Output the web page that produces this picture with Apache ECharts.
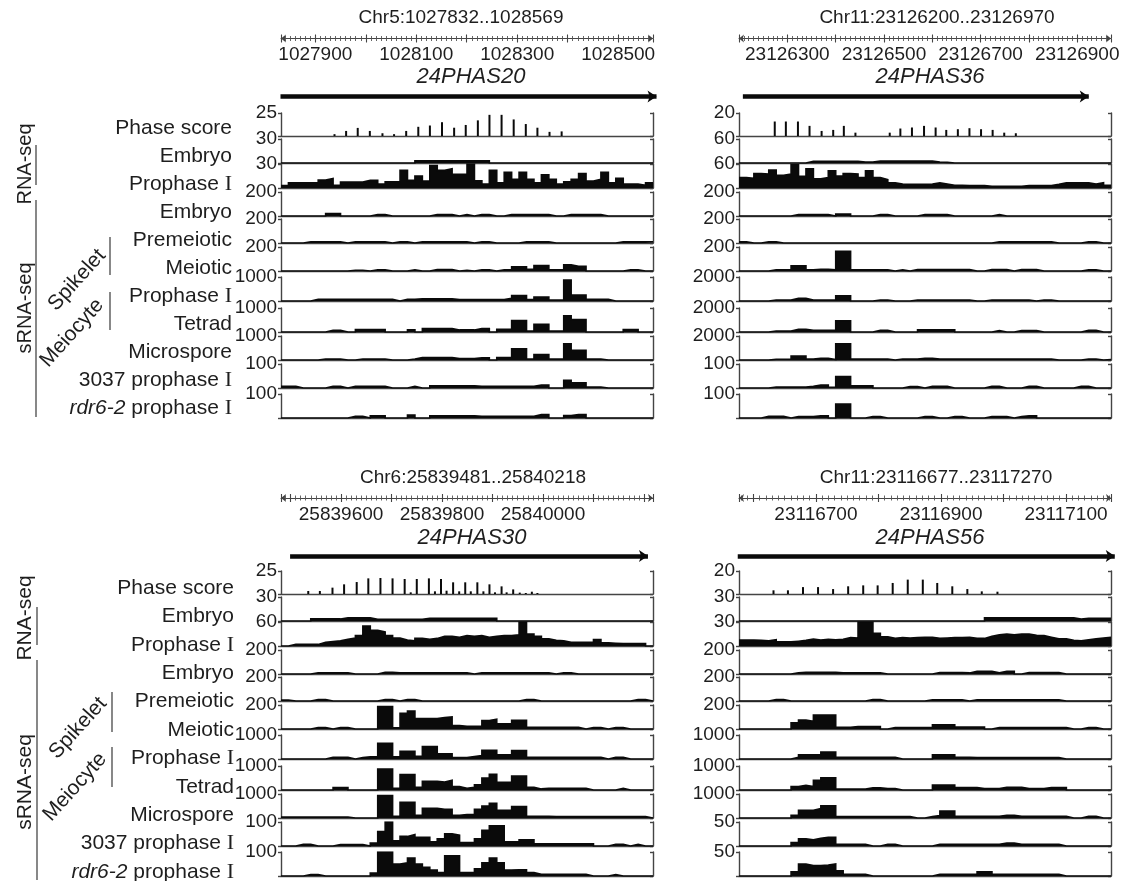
<!DOCTYPE html>
<html><head><meta charset="utf-8">
<script src="https://cdn.jsdelivr.net/npm/echarts@6/dist/echarts.min.js"></script>
<style>html,body{margin:0;padding:0;background:#fff}#c{width:1126px;height:881px}</style>
</head><body><div id="c"></div>
<script>
// ---------------- DATA ----------------
const chromTL = 'Chr5', regionTL = [1027832, 1028569], labelsTL = [1027900, 1028100, 1028300, 1028500];
const chromTR = 'Chr11', regionTR = [23126200, 23126970], labelsTR = [23126300, 23126500, 23126700, 23126900];
const chromBL = 'Chr6', regionBL = [25839481, 25840218], labelsBL = [25839600, 25839800, 25840000];
const chromBR = 'Chr11', regionBR = [23116677, 23117270], labelsBR = [23116700, 23116900, 23117100];
const rulerBR = [23116577, 23117172]; // extent of the drawn coordinate ruler in this panel

const geneTL = [1027831, 1028576], geneTR = [23126208, 23126924], geneBL = [25839499, 25840208], geneBR = [23116675, 23117276];
const nameTL = '24PHAS20', nameTR = '24PHAS36', nameBL = '24PHAS30', nameBR = '24PHAS56';

const yMaxTL = [25, 30, 30, 200, 200, 200, 1000, 1000, 1000, 100, 100];
const yMaxTR = [20, 60, 60, 200, 200, 200, 2000, 2000, 2000, 100, 100];
const yMaxBL = [25, 30, 60, 200, 200, 200, 1000, 1000, 1000, 100, 100];
const yMaxBR = [20, 30, 30, 200, 200, 200, 1000, 1000, 1000, 50, 50];

const rowLabels = ['Phase score', 'Embryo', 'Prophase {s|I}', 'Embryo', 'Premeiotic', 'Meiotic', 'Prophase {s|I}', 'Tetrad', 'Microspore', '3037 prophase {s|I}', '{i|rdr6-2} prophase {s|I}'];

// phase score spikes
const tlPhasePos = [1027938,1027961,1027984,1028008,1028033,1028056,1028080,1028104,1028127,1028151,1028175,1028198,1028222,1028245,1028269,1028293,1028317,1028340,1028364,1028388];
const tlPhaseVal = [2,5.5,8.8,5.5,3,2,5.5,10,11.4,15,9,12,17,23,23,18,13,9,4.5,5];
const trPhasePos = [23126274,23126297,23126322,23126346,23126371,23126395,23126417,23126441,23126512,23126534,23126558,23126583,23126607,23126629,23126653,23126677,23126701,23126725,23126749,23126773];
const trPhaseVal = [12.6,12.6,12.6,8.8,4.4,5.3,8.8,2.9,2.9,6.5,7.4,8.8,7.4,5.3,5.9,6.8,5.9,5.3,2.9,2.4];
const blPhasePos = [25839535,25839558,25839583,25839606,25839631,25839654,25839678,25839702,25839726,25839738,25839750,25839774,25839786,25839798,25839809,25839822,25839834,25839846,25839857,25839870,25839882,25839894,25839905,25839918,25839928,25839941,25839954,25839966,25839978,25839989];
const blPhaseVal = [3.3,3.3,6.9,10.5,13,17,17.4,17,16.3,1.8,16.3,17,2.9,16.3,3.6,12.7,2.9,12.7,2.9,12.7,2.9,10.5,1.8,8.3,1.8,5,1.5,1.1,2.5,1.1];
const brPhasePos = [23116732,23116755,23116779,23116803,23116827,23116851,23116875,23116898,23116922,23116946,23116970,23116993,23117017,23117041,23117064,23117089];
const brPhaseVal = [3.2,3.2,6,6,4.3,6.7,7.5,7.5,9.6,12.5,12.5,9.6,6.7,4.3,2.3,2];

// coverage tracks: 50 equal bins across each region
const tlRnaEmb = [0,0,0,0,0,0,0,0,0,0, 0,0,0,0,0,0,0,0,2.6,2.6, 2.6,2.6,2.6,2.6,2.6,2.6,2.6,2.6,0,0, 0,0,0,0,0,0,0,0,0,0, 0,0,0,0,0,0,0,0,0,0];
const tlRnaPro = [3,6.5,6.5,6.5,6.5,10,12,3.5,7.4,7.4, 7.4,9.5,9.5,5,7.8,8,22,9.5,15,8.7, 28,22,24,17,17,30,9,5,22,6.5, 19.5,11,19.5,11,6.5,16.5,11,5,7.8,11, 18,8.7,11,19.5,6.5,12,5,5,3.5,6.5];
const tlEmb = [0,0,0,0,0,0,20,20,0,0, 0,0,12,12,0,0,0,0,0,0, 12,12,12,0,12,0,12,12,0,0, 12,12,12,12,12,12,0,0,12,12, 12,12,12,0,0,0,0,0,0,0];
const tlPre = [0,0,0,9,9,9,9,9,0,9, 9,9,9,9,0,9,9,0,9,9, 9,9,9,9,9,0,9,9,0,0, 0,0,9,9,9,9,0,0,0,0, 0,0,0,0,0,9,9,9,9,9];
const tlMei = [0,0,0,0,0,0,0,0,0,6, 6,0,9,9,0,0,0,9,0,0, 12,12,12,0,5,0,9,9,0,9, 9,35,35,14,46,46,9,9,52,40, 40,0,0,0,0,0,9,9,0,0];
const tlPro = [0,0,0,0,72,72,72,72,72,72, 72,72,72,72,72,0,72,72,87,87, 87,87,87,58,58,58,58,58,58,58, 116,230,230,58,160,160,43,43,870,246, 246,72,72,72,0,0,0,0,0,0];
const tlTet = [0,0,0,0,0,0,72,72,0,0, 100,100,100,100,0,0,0,87,0,145, 145,145,145,87,87,87,145,145,0,116, 116,478,478,43,320,320,43,43,680,520, 520,0,0,0,0,0,100,100,0,0];
const tlMic = [0,0,0,0,0,43,43,43,0,0, 43,43,43,43,0,0,0,43,100,100, 100,100,100,58,58,58,87,87,0,100, 100,464,464,43,232,232,43,43,680,406, 406,43,43,0,0,0,0,0,0,0];
const tl3037 = [7,7,0,0,0,0,7,7,0,7, 7,7,7,7,0,0,0,7,0,0, 9,9,9,9,9,9,7,7,7,7, 7,7,7,7,12,12,0,0,32,22, 22,4,4,0,0,0,0,0,0,0];
const tlRdr = [0,0,0,0,0,0,0,0,0,7, 7,0,9,9,0,0,0,12,0,0, 9,9,9,9,9,9,7,7,7,7, 7,7,7,7,14,14,0,0,10,14, 14,0,0,0,0,0,0,0,0,0];

const trRnaEmb = [0,0,0,0,0,0,0,0,0,4.3, 4.3,4.3,4.3,4.3,4.3,4.3,2.6,2.6,5,5, 5,5,5,5,5,5,2.6,1.5,0,0, 0,0,0,0,0,0,0,0,0,0, 0,0,0,0,0,0,0,0,0,0];
const trRnaPro = [26,24,36,35,45,32,35,58,29,48, 23,26,43,30,36,35,26,43,26,21, 13,10,9,9,9,10,13,10,7,7, 6,6,6,4.5,4.5,4.5,4.5,4.5,6,6, 6,6,9,13,13,13,13,10,13,7];
const trEmb = [0,0,0,0,0,0,0,12,12,12, 12,12,0,17,17,0,0,0,12,12, 0,0,0,0,12,12,12,12,0,0, 0,0,0,0,12,0,0,0,0,0, 0,0,0,0,0,0,0,0,0,0];
const trPre = [10,0,0,10,10,0,0,0,0,0, 0,0,0,0,0,0,0,0,0,0, 0,0,0,0,0,0,0,0,0,0, 0,0,0,0,10,10,10,10,10,10, 10,10,0,0,0,0,10,10,0,0];
const trMei = [0,0,0,0,9,9,9,43,43,9, 14,14,9,165,165,9,9,9,9,9, 0,9,0,12,12,12,12,12,12,12, 12,0,0,12,12,12,0,12,12,12, 0,0,0,0,0,0,9,9,0,0];
const trPro = [0,0,0,0,87,87,87,232,232,87, 87,87,87,435,435,0,0,0,87,87, 0,0,0,87,87,87,87,87,87,87, 87,0,0,87,87,87,87,87,87,0, 87,87,0,0,0,0,0,0,0,0];
const trTet = [0,0,0,0,87,87,87,232,232,145, 145,145,145,930,930,0,0,0,145,145, 0,0,0,0,174,174,174,174,174,0, 0,0,0,0,116,0,0,116,116,116, 0,0,0,0,0,0,145,145,0,0];
const trMic = [0,0,0,0,58,58,58,320,320,87, 145,145,40,1360,1360,87,87,87,87,87, 0,87,87,87,145,145,87,87,87,87, 87,87,87,87,87,87,87,87,87,87, 87,87,0,0,0,0,87,87,0,30];
const tr3037 = [0,0,0,0,4,4,4,4,4,7, 12,12,3,48,48,9,9,9,0,0, 0,0,6,6,0,7,7,7,0,0, 0,0,0,7,7,0,0,0,7,7, 0,0,0,0,0,7,7,0,0,0];
const trRdr = [0,0,0,7,7,7,0,6,6,6, 9,9,0,58,58,0,0,6,6,0, 0,0,0,0,6,6,0,0,6,6, 0,0,0,6,6,6,0,6,9,9, 0,0,0,0,0,0,0,0,0,0];

const blRnaEmb = [0,0,0,0,2.6,2.6,2.6,2.6,3.9,3.9, 3.9,3.9,2.2,2.2,2.2,2.2,2.2,2.2,2.2,3.5, 3.5,3.5,3.5,3.5,3.5,3.5,3.5,3.5,3.5,0, 0,0,0,0,0,0,0,0,0,0, 0,0,0,0,0,0,0,0,0,0];
const blRnaPro = [0,4,4,4,4,9,11,13,17,20, 26,50,39,35,26,20,15,13,19,17, 19,24,24,22,26,24,26,22,24,26, 26,28,60,30,24,18,14,13,9,9, 9,10,16,8,7,6,6,6,6,0];
const blEmb = [0,0,0,0,10,10,10,10,10,0, 0,0,0,14,14,10,10,10,10,10, 10,10,10,10,10,0,10,10,10,10, 10,10,10,10,10,10,0,10,10,0, 0,0,0,0,0,0,0,0,0,0];
const blPre = [8,0,0,0,12,12,0,0,0,0, 0,0,0,12,12,0,12,12,0,0, 0,0,0,0,0,0,0,0,0,0, 0,0,12,12,0,0,0,0,0,0, 0,0,0,0,0,0,0,12,12,0];
const blMei = [0,0,0,0,12,12,0,12,12,0, 0,0,0,188,188,10,130,150,87,87, 87,95,101,29,23,23,23,70,81,43, 43,72,72,15,14,14,14,14,14,14, 0,12,12,0,12,12,0,0,0,0];
const blPro = [0,0,0,0,0,0,72,72,72,0, 58,87,87,650,650,87,320,320,116,520, 520,217,217,58,58,100,145,362,362,174, 174,348,348,72,72,72,72,72,72,72, 72,72,72,0,72,72,0,0,0,0];
const blTet = [0,0,0,0,0,0,0,100,100,0, 0,0,0,870,870,72,640,640,116,362, 362,330,406,145,72,110,217,500,650,320, 320,580,580,116,45,72,72,72,72,72, 72,0,0,0,0,72,0,0,0,0];
const blMic = [43,43,43,43,43,43,43,43,43,0, 0,0,0,940,940,72,650,650,116,406, 406,362,362,116,145,145,362,500,610,320, 320,478,478,72,72,72,58,58,58,58, 58,58,58,58,58,58,58,58,58,0];
const bl3037 = [0,0,7,7,0,0,0,6,6,6, 6,0,12,60,100,22,40,48,36,36, 17,30,51,45,14,14,30,65,84,84, 17,17,26,26,9,9,9,9,9,9, 9,9,0,0,7,7,0,7,0,0];
const blRdr = [0,0,0,6,6,0,0,0,0,0, 0,0,12,100,100,50,55,75,50,36, 25,14,84,84,14,14,30,55,75,55, 25,26,26,14,7,7,7,7,7,7, 7,0,0,0,6,0,0,0,0,0];

const brRnaEmb = [0,0,0,0,0,0,0,0,0,0, 0,0,0,0,0,0,0,0,0,0, 0,0,0,0,0,0,0,0,0,0, 0,0,0,3.9,3.9,3.9,3.9,3.9,3.9,3.9, 3.9,3.9,3.9,3.9,3.9,2.5,3.5,3.5,3.5,3.5];
const brRnaPro = [7.4,7.4,7,6.5,7.8,5.2,5.2,6,7,8.7, 7.5,8.5,7.8,8.5,10.5,10,30,30,16,11.5, 9.6,10.5,10,10.5,11,11,9.6,10,10.5,10.5, 11,9.5,9.5,12,14,15,14,15,15,13.5, 13,11,9,9,7,6.5,7.8,9,10,11];
const brEmb = [0,0,0,0,0,0,0,9,14,14, 14,14,14,9,9,9,9,9,9,0, 0,0,0,0,0,0,12,12,12,12, 9,23,23,23,10,23,23,0,12,12, 12,12,12,0,0,0,0,0,0,0];
const brPre = [0,0,0,0,12,12,0,0,0,0, 0,0,0,0,0,0,0,12,12,0, 0,0,0,0,0,9,9,9,9,9, 0,9,9,9,9,9,9,9,9,9, 9,9,9,0,0,0,0,0,0,0];
const brMei = [0,0,0,0,0,0,0,52,75,64, 116,116,116,14,14,20,20,20,20,0, 12,12,12,12,12,12,35,35,35,17, 17,17,17,0,12,12,12,12,12,12, 12,12,12,12,0,0,12,12,0,0];
const brPro = [0,0,0,0,0,0,0,72,174,174, 174,290,290,72,72,72,72,72,72,72, 72,0,0,0,0,0,174,174,174,72, 72,58,58,58,58,58,58,58,58,58, 58,58,58,0,0,0,0,0,0,0];
const brTet = [0,0,0,0,0,0,0,145,200,145, 400,507,507,43,43,43,43,87,87,58, 58,0,0,0,0,0,203,203,203,100, 100,100,58,58,58,116,116,116,58,58, 58,100,100,100,0,0,0,0,0,0];
const brMic = [0,0,0,0,0,0,0,116,320,320, 400,507,507,58,58,58,58,58,58,58, 58,58,58,0,0,58,100,290,290,72, 72,72,72,72,72,116,116,72,72,72, 72,72,72,72,0,0,72,72,0,0];
const br3037 = [0,0,0,0,0,0,0,7,15,13, 16,18,18,3.6,3.6,3.6,3.6,0,0,3.6, 3.6,0,0,0,0,0,3.6,3.6,3.6,3.6, 3.6,3.6,3.6,3.6,3.6,6,6,3.6,3.6,3.6, 3.6,3.6,3.6,0,0,0,0,0,0,0];
const brRdr = [0,0,0,0,0,0,0,9,25,22, 22,23,25,11,3.6,3.6,3.6,0,0,0, 0,0,0,0,0,0,3.6,3.6,3.6,3.6, 3.6,3.6,9,9,3.6,3.6,3.6,3.6,3.6,3.6, 3.6,3.6,3.6,0,0,0,0,0,0,0];

// ---------------- LAYOUT ----------------
const FONT = "'Liberation Sans', Arial, sans-serif";
const TXT = '#1e1e1e', AX = '#444', FILL = '#0a0a0a';
const W = 372;
const trackBaseTop = [136, 163, 188, 216, 243, 271, 301, 332, 360, 388, 418];

const panels = [
  {left: 281, off: 0, chrom: chromTL, region: regionTL, ruler: regionTL, labels: labelsTL, gene: geneTL, name: nameTL, yMax: yMaxTL,
   pPos: tlPhasePos, pVal: tlPhaseVal, tracks: [tlRnaEmb, tlRnaPro, tlEmb, tlPre, tlMei, tlPro, tlTet, tlMic, tl3037, tlRdr],
   hdr: {title: 18, ruler: 38.5, name: 77, gene: 96.5}, titleX: 461, nameX: 471},
  {left: 739, off: 0, chrom: chromTR, region: regionTR, ruler: regionTR, labels: labelsTR, gene: geneTR, name: nameTR, yMax: yMaxTR,
   pPos: trPhasePos, pVal: trPhaseVal, tracks: [trRnaEmb, trRnaPro, trEmb, trPre, trMei, trPro, trTet, trMic, tr3037, trRdr],
   hdr: {title: 18, ruler: 38.5, name: 77, gene: 96.5}, titleX: 937, nameX: 930},
  {left: 281, off: 458, chrom: chromBL, region: regionBL, ruler: regionBL, labels: labelsBL, gene: geneBL, name: nameBL, yMax: yMaxBL,
   pPos: blPhasePos, pVal: blPhaseVal, tracks: [blRnaEmb, blRnaPro, blEmb, blPre, blMei, blPro, blTet, blMic, bl3037, blRdr],
   hdr: {title: 478, ruler: 498, name: 538, gene: 556}, titleX: 473, nameX: 472},
  {left: 739, off: 458, chrom: chromBR, region: regionBR, ruler: rulerBR, labels: labelsBR, gene: geneBR, name: nameBR, yMax: yMaxBR,
   pPos: brPhasePos, pVal: brPhaseVal, tracks: [brRnaEmb, brRnaPro, brEmb, brPre, brMei, brPro, brTet, brMic, br3037, brRdr],
   hdr: {title: 478, ruler: 498, name: 538, gene: 556}, titleX: 936, nameX: 930}
];

function stepData(vals, region) {
  const n = vals.length, w = (region[1] - region[0]) / n, d = [];
  for (let k = 0; k < n; k++) d.push([region[0] + k * w, vals[k]]);
  d.push([region[1], vals[n - 1]]);
  return d;
}

const grid = [], xAxis = [], yAxis = [], series = [], elements = [];
const axLine = {color: AX, width: 1.4};

panels.forEach(p => {
  // ruler
  let gi = grid.push({left: p.left, width: W, top: p.hdr.ruler - 10, height: 10}) - 1;
  const rb = {type: 'value', gridIndex: gi, min: p.ruler[0], max: p.ruler[1], position: 'bottom',
    minInterval: 100, maxInterval: 100, splitNumber: 7, splitLine: {show: false}};
  xAxis.push(Object.assign({}, rb, {
    axisLine: {show: true, onZero: false, symbol: ['arrow', 'arrow'], symbolSize: [6, 5], lineStyle: {color: AX, width: 1.1}},
    axisTick: {show: true, inside: false, length: 4, lineStyle: {color: AX, width: 1.1}},
    minorTick: {show: true, splitNumber: 10, length: 2.5, lineStyle: {color: '#555', width: 0.9}},
    axisLabel: {show: true, margin: 7, fontSize: 19, color: TXT, fontFamily: FONT,
      formatter: v => p.labels.indexOf(v) >= 0 ? String(v) : ''}
  }));
  xAxis.push(Object.assign({}, rb, {
    axisLine: {show: false, onZero: false},
    axisTick: {show: true, inside: true, length: 4, lineStyle: {color: AX, width: 1.1}},
    minorTick: {show: true, splitNumber: 10, length: 2.5, lineStyle: {color: '#555', width: 0.9}},
    axisLabel: {show: false}
  }));
  yAxis.push({type: 'value', gridIndex: gi, min: 0, max: 1, show: false});

  // gene arrow
  gi = grid.push({left: p.left, width: W, top: p.hdr.gene - 6, height: 12}) - 1;
  let xi = xAxis.push({type: 'value', gridIndex: gi, min: p.region[0], max: p.region[1], show: false}) - 1;
  let yi = yAxis.push({type: 'value', gridIndex: gi, min: -1, max: 1, show: false}) - 1;
  series.push({type: 'lines', coordinateSystem: 'cartesian2d', xAxisIndex: xi, yAxisIndex: yi, clip: false, silent: true,
    symbol: ['none', 'arrow'], symbolSize: [8, 9], lineStyle: {color: FILL, width: 4.5, opacity: 1, curveness: 0},
    data: [{coords: [[p.gene[0], 0], [p.gene[1], 0]]}]});

  // tracks
  for (let i = 0; i < 11; i++) {
    const base = trackBaseTop[i] + p.off, h = i === 0 ? 23 : 24, M = p.yMax[i];
    gi = grid.push({left: p.left, width: W, top: base - h, height: h}) - 1;
    xi = xAxis.push({type: 'value', gridIndex: gi, min: p.region[0], max: p.region[1],
      axisLine: {show: true, onZero: false, lineStyle: axLine}, axisTick: {show: false}, axisLabel: {show: false}, splitLine: {show: false}}) - 1;
    yi = yAxis.push({type: 'value', gridIndex: gi, min: 0, max: M, interval: M, position: 'left',
      axisLine: {show: true, lineStyle: axLine}, axisTick: {show: true, length: 3, lineStyle: axLine},
      axisLabel: {show: true, margin: 4, fontSize: 19, color: TXT, fontFamily: FONT, formatter: v => v === M ? String(M) : ''},
      splitLine: {show: false}}) - 1;
    yAxis.push({type: 'value', gridIndex: gi, min: 0, max: M, interval: M, position: 'right',
      axisLine: {show: true, lineStyle: axLine}, axisTick: {show: true, inside: true, length: 3, lineStyle: axLine},
      axisLabel: {show: false}, splitLine: {show: false}});
    if (i === 0) {
      series.push({type: 'bar', xAxisIndex: xi, yAxisIndex: yi, barWidth: 2, silent: true,
        itemStyle: {color: FILL}, data: p.pPos.map((x, k) => [x, p.pVal[k]])});
    } else {
      series.push({type: 'line', xAxisIndex: xi, yAxisIndex: yi, step: 'end', symbol: 'none', showSymbol: false, silent: true,
        lineStyle: {color: FILL, width: 1.6, join: 'miter'}, areaStyle: {color: FILL, opacity: 1},
        data: stepData(p.tracks[i - 1], p.region)});
    }
  }

  // headers
  elements.push({type: 'text', x: p.titleX, y: p.hdr.title, style: {text: p.chrom + ':' + p.region[0] + '..' + p.region[1],
    fill: TXT, fontSize: 19, fontFamily: FONT, align: 'center', verticalAlign: 'middle', textAlign: 'center', textVerticalAlign: 'middle'}});
  elements.push({type: 'text', x: p.nameX, y: p.hdr.name, style: {text: p.name, fill: TXT, fontSize: 22, fontStyle: 'italic',
    fontFamily: FONT, align: 'center', verticalAlign: 'middle', textAlign: 'center', textVerticalAlign: 'middle'}});
});

// left row labels
const richDef = {
  s: {fontFamily: "'Liberation Serif', 'DejaVu Serif', serif", fontSize: 22, fill: TXT, color: TXT},
  i: {fontFamily: FONT, fontStyle: 'italic', fontSize: 21, fill: TXT, color: TXT}
};
[{x: 232, y0: 128, dy: 28}, {x: 234, y0: 588, dy: 28.4}].forEach(c => {
  rowLabels.forEach((t, i) => {
    elements.push({type: 'text', x: c.x, y: c.y0 + c.dy * i, style: {text: t, fill: TXT, fontSize: 21, fontFamily: FONT,
      align: 'right', verticalAlign: 'middle', textAlign: 'right', textVerticalAlign: 'middle', rich: richDef}});
  });
});

// group labels and brackets
function gText(t, x, y, rot, size) {
  elements.push({type: 'text', x: x, y: y, rotation: rot, style: {text: t, fill: TXT, fontSize: size, fontFamily: FONT,
    align: 'center', verticalAlign: 'middle', textAlign: 'center', textVerticalAlign: 'middle'}});
}
function gLine(x, y1, y2) {
  elements.push({type: 'line', shape: {x1: x, y1: y1, x2: x, y2: y2}, style: {stroke: '#555', lineWidth: 1.4}});
}
const R90 = Math.PI / 2, RD = 48 * Math.PI / 180;
gText('RNA-seq', 25, 164, R90, 20); gLine(36, 145, 185);
gText('sRNA-seq', 25, 308, R90, 20); gLine(36, 200, 417);
gText('Spikelet', 77, 280, RD, 21); gLine(110, 237, 275);
gText('Meiocyte', 72, 333, RD, 21); gLine(110, 292, 330);
gText('RNA-seq', 25, 618, R90, 21); gLine(37, 607, 645);
gText('sRNA-seq', 25, 782, R90, 21); gLine(37, 660, 880);
gText('Spikelet', 78, 728, RD, 21); gLine(112, 692, 732);
gText('Meiocyte', 75, 787, RD, 21); gLine(112, 747, 787);

const chart = echarts.init(document.getElementById('c'), null, {renderer: 'canvas'});
chart.setOption({
  animation: false,
  backgroundColor: '#fff',
  grid: grid, xAxis: xAxis, yAxis: yAxis, series: series,
  graphic: {elements: elements}
});
</script></body></html>
